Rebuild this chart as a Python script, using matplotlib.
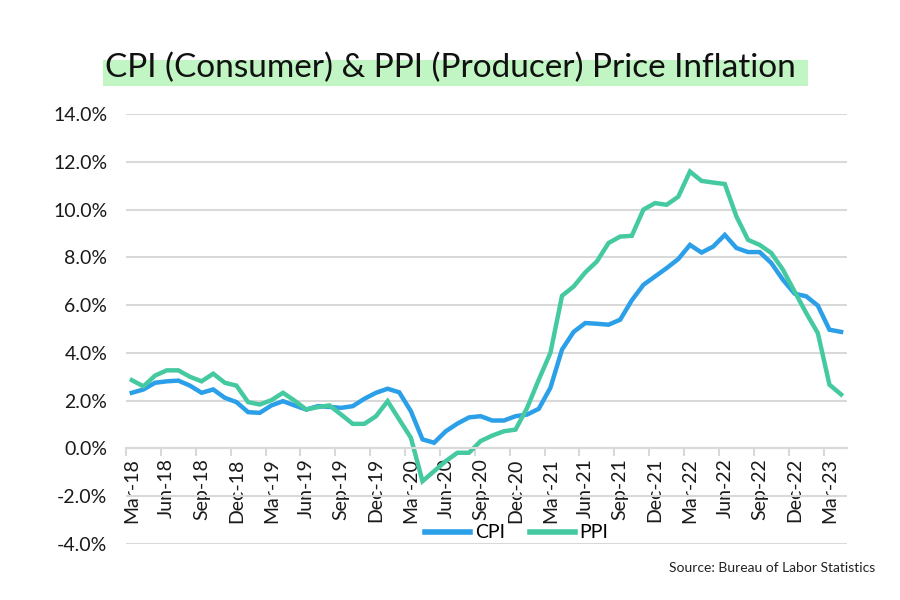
import numpy as np
import pandas as pd
import matplotlib
matplotlib.use('Agg')
import matplotlib.pyplot as plt
from matplotlib.patches import Rectangle
from matplotlib.ticker import FixedLocator, FuncFormatter

# monthly year-over-year change, Mar-18 .. Apr-23
months = pd.date_range('2018-03-01', '2023-04-01', freq='MS').strftime('%b-%y').tolist()

cpi = [2.33, 2.47, 2.75, 2.81, 2.84, 2.63, 2.33, 2.47, 2.12, 1.94,
       1.52, 1.49, 1.80, 1.98, 1.80, 1.63, 1.77, 1.74, 1.70, 1.77,
       2.08, 2.33, 2.50, 2.35, 1.56, 0.38, 0.24, 0.72, 1.04, 1.30,
       1.35, 1.17, 1.17, 1.35, 1.42, 1.66, 2.54, 4.14, 4.88, 5.25,
       5.22, 5.18, 5.39, 6.20, 6.85, 7.20, 7.55, 7.93, 8.52, 8.20,
       8.45, 8.94, 8.39, 8.22, 8.22, 7.76, 7.06, 6.48, 6.37, 5.98,
       4.97, 4.88]

ppi = [2.86, 2.60, 3.05, 3.27, 3.27, 3.00, 2.81, 3.13, 2.75, 2.63,
       1.94, 1.84, 2.02, 2.33, 2.00, 1.63, 1.73, 1.80, 1.42, 1.03,
       1.03, 1.35, 1.98, 1.21, 0.45, -1.37, -0.95, -0.53, -0.18, -0.18,
       0.31, 0.54, 0.72, 0.79, 1.70, 2.88, 4.00, 6.39, 6.78, 7.37,
       7.83, 8.60, 8.87, 8.90, 10.00, 10.27, 10.20, 10.54, 11.59, 11.20,
       11.13, 11.07, 9.71, 8.73, 8.52, 8.18, 7.48, 6.57, 5.67, 4.83,
       2.67, 2.26]

y_ticks = [-4, -2, 0, 2, 4, 6, 8, 10, 12, 14]

cpi_color = '#2b9fe8'
ppi_color = '#45c9a0'
grid_color = '#d9d9d9'

fig = plt.figure(figsize=(9, 6), dpi=100)
ax = fig.add_axes((0.14, 0.0933, 0.801, 0.7167))

x = np.arange(len(months)) + 0.5
ax.plot(x, cpi, color=cpi_color, lw=3.2, label='CPI', solid_joinstyle='miter')
ax.plot(x, ppi, color=ppi_color, lw=3.2, label='PPI', solid_joinstyle='miter')

ax.set_xlim(0, len(months))
ax.set_ylim(-4, 14)
ax.set_yticks(y_ticks)
ax.yaxis.set_major_formatter(FuncFormatter(lambda v, p: f'{v:.1f}%'))
ax.grid(axis='y', color=grid_color, lw=1.5)
ax.set_axisbelow(True)

for s in ['top', 'right', 'left']:
    ax.spines[s].set_visible(False)
ax.spines['bottom'].set_position(('data', 0))
ax.spines['bottom'].set_color(grid_color)
ax.spines['bottom'].set_linewidth(1.5)

# ticks at category boundaries, labels at category centres
ax.xaxis.set_major_locator(FixedLocator(np.arange(0, len(months), 3)))
ax.xaxis.set_minor_locator(FixedLocator(np.arange(0, len(months), 3) + 0.5))
ax.xaxis.set_major_formatter(FuncFormatter(lambda v, p: ''))
ax.set_xticklabels(months[::3], minor=True, rotation=90)
ax.tick_params(axis='x', which='major', length=6, width=1.5, color=grid_color)
ax.tick_params(axis='x', which='minor', length=0, pad=7, labelsize=14,
               labelfontfamily='Lato', labelcolor='#1a1a1a')
ax.tick_params(axis='y', length=0, pad=13.5, labelsize=14,
               labelfontfamily='Lato', labelcolor='#1a1a1a')

leg = ax.legend(loc='center', bbox_to_anchor=(0.542, 0.026), ncol=2, frameon=False,
                handlelength=2.3, columnspacing=1.3, handletextpad=0.25,
                prop={'family': 'Lato', 'size': 14})
for line in leg.get_lines():
    line.set_linewidth(4)

# title with highlighter band
fig.patches.append(Rectangle((0.1144, 0.8567), 0.783, 0.0433, transform=fig.transFigure,
                             facecolor='#c2f5c4', edgecolor='none', zorder=0))
fig.text(0.5, 0.872, 'CPI (Consumer) & PPI (Producer) Price Inflation', ha='center',
         va='baseline', fontsize=24, family='Lato', color='#111111', zorder=2)

fig.text(0.973, 0.054, 'Source: Bureau of Labor Statistics', ha='right', va='center',
         fontsize=10, family='Lato', color='#222222')

fig.savefig('out.png', dpi=100)
